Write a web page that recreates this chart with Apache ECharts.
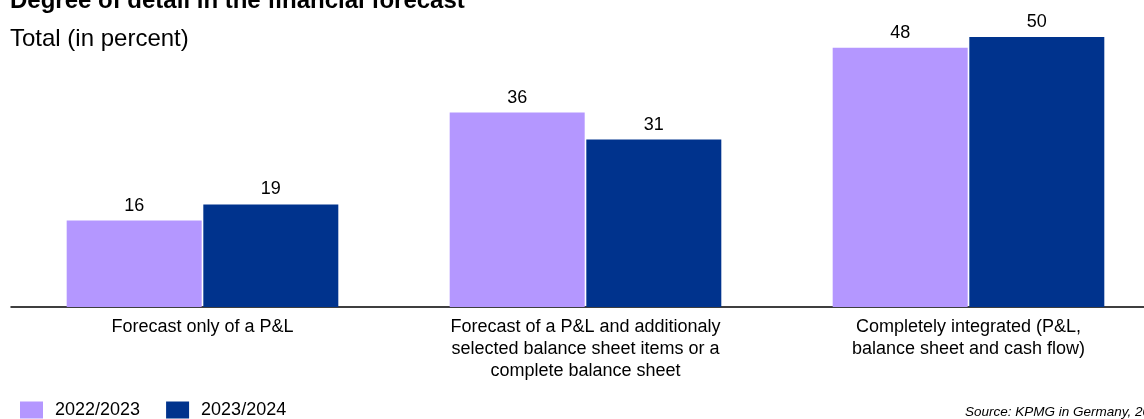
<!DOCTYPE html>
<html>
<head>
<meta charset="utf-8">
<script src="https://cdn.jsdelivr.net/npm/echarts@6/dist/echarts.min.js"></script>
<style>
  html, body { margin: 0; padding: 0; background: #ffffff; overflow: hidden; }
  /* canvas is a little wider than the window so the last group runs to the edge */
  #chart { width: 1160px; height: 419px; }
</style>
</head>
<body>
<div id="chart"></div>
<script>
// Forecast scope categories (line breaks as shown under the axis)
const categories = [
  'Forecast only of a P&L',
  'Forecast of a P&L and additionaly\nselected balance sheet items or a\ncomplete balance sheet',
  'Completely integrated (P&L,\nbalance sheet and cash flow)'
];
const seriesNames = ['2022/2023', '2023/2024'];
const values2223 = [16, 36, 48];
const values2324 = [19, 31, 50];

const FONT = '"Liberation Sans", Arial, sans-serif';
const PURPLE = '#B497FF';
const NAVY = '#00338D';

const chart = echarts.init(document.getElementById('chart'), null, { renderer: 'canvas' });

const labelStyle = {
  show: true,
  position: 'top',
  distance: 6,
  color: '#000000',
  fontFamily: FONT,
  fontSize: 18
};

chart.setOption({
  animation: false,
  backgroundColor: '#ffffff',
  title: [
    {
      text: 'Degree of detail in the financial forecast',
      left: 10,
      top: -11,
      textStyle: { fontFamily: FONT, fontSize: 24, fontWeight: 'bold', color: '#000000', lineHeight: 24 },
      padding: 0
    },
    {
      text: 'Total (in percent)',
      left: 10,
      top: 27,
      textStyle: { fontFamily: FONT, fontSize: 24, fontWeight: 'normal', color: '#000000', lineHeight: 24 },
      padding: 0
    },
    {
      text: 'Source: KPMG in Germany, 2024',
      left: 965,
      top: 405,
      textStyle: { fontFamily: FONT, fontSize: 13.5, fontStyle: 'italic', fontWeight: 'normal', color: '#000000', lineHeight: 14 },
      padding: 0
    }
  ],
  legend: {
    left: 20,
    top: 401,
    padding: 0,
    itemWidth: 23,
    itemHeight: 17,
    itemGap: 26,
    icon: 'rect',
    data: seriesNames,
    textStyle: { fontFamily: FONT, fontSize: 18, color: '#000000', padding: [0, 0, 0, 7] }
  },
  grid: {
    left: 11,
    right: 0,
    top: 37,
    height: 270,
    containLabel: false
  },
  xAxis: {
    type: 'category',
    data: categories,
    axisLine: { show: true, lineStyle: { color: '#000000', width: 1.5 } },
    axisTick: { show: false },
    axisLabel: {
      interval: 0,
      margin: 9,
      color: '#000000',
      fontFamily: FONT,
      fontSize: 18,
      lineHeight: 22,
      align: 'center'
    }
  },
  yAxis: {
    type: 'value',
    min: 0,
    max: 50,
    show: false,
    splitLine: { show: false }
  },
  series: [
    {
      name: seriesNames[0],
      type: 'bar',
      data: values2223,
      barWidth: 135,
      barGap: '1.2%',
      itemStyle: { color: PURPLE },
      label: labelStyle
    },
    {
      name: seriesNames[1],
      type: 'bar',
      data: values2324,
      barWidth: 135,
      barGap: '1.2%',
      itemStyle: { color: NAVY },
      label: labelStyle
    }
  ]
});
</script>
</body>
</html>
